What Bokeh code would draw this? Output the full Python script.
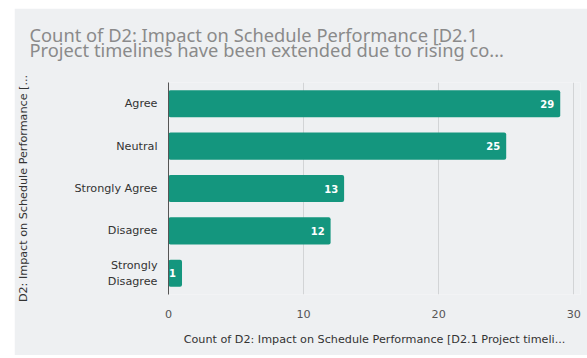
from bokeh.plotting import figure
from bokeh.models import ColumnDataSource, FactorRange, Range1d, FixedTicker, LabelSet, Title
from bokeh.core.properties import value
from bokeh.embed import file_html
from bokeh.resources import INLINE

categories = ["Agree", "Neutral", "Strongly Agree", "Disagree", "Strongly\nDisagree"]
counts = [29, 25, 13, 12, 1]
x_ticks = [0, 10, 20, 30]

title_line1 = "Count of D2: Impact on Schedule Performance [D2.1"
title_line2 = "Project timelines have been extended due to rising co..."
x_title = "Count of D2: Impact on Schedule Performance [D2.1 Project timeli..."
y_title = "D2: Impact on Schedule Performance [..."

BG = "#eef0f2"
BAR = "#14967e"
FS = "11.2px"
TFS = "18.3px"

src = ColumnDataSource(dict(cat=categories, cnt=counts, lbl=[str(c) for c in counts]))

p = figure(width=573, height=347, output_backend="svg", toolbar_location=None,
           y_range=FactorRange(factors=categories[::-1], range_padding=0),
           x_range=Range1d(0, 30.5),
           min_border_left=154, min_border_right=7, min_border_top=74, min_border_bottom=61,
           background_fill_color=BG, border_fill_color=BG, outline_line_color=None)
p.margin = (8, 0, 3, 14)

p.hbar(y="cat", right="cnt", left=0, height=0.64, source=src, fill_color=BAR,
       line_color=None, border_radius=2)

labels = LabelSet(x="cnt", y="cat", text="lbl", source=src, x_offset=-6,
                  text_align="right", text_baseline="middle", text_color="white",
                  text_font=value("DejaVu Sans"), text_font_size="10px", text_font_style="bold")
p.add_layout(labels)

p.xaxis.ticker = FixedTicker(ticks=x_ticks)
p.xaxis.axis_line_color = None
p.xaxis.major_tick_line_color = None
p.xaxis.minor_tick_line_color = None
p.xaxis.major_label_standoff = 9
p.xaxis.major_label_text_font = "DejaVu Sans"
p.xaxis.major_label_text_font_size = FS
p.xaxis.major_label_text_color = "#555555"
p.xaxis.axis_label = x_title
p.xaxis.axis_label_text_font = "DejaVu Sans"
p.xaxis.axis_label_text_font_size = FS
p.xaxis.axis_label_text_font_style = "normal"
p.xaxis.axis_label_text_color = "#333333"
p.xaxis.axis_label_standoff = 12

p.yaxis.axis_line_color = "#555555"
p.yaxis.major_tick_line_color = None
p.yaxis.minor_tick_line_color = None
p.yaxis.major_label_standoff = 5
p.yaxis.major_label_text_font = "DejaVu Sans"
p.yaxis.major_label_text_font_size = FS
p.yaxis.major_label_text_color = "#333333"
p.yaxis.axis_label = y_title
p.yaxis.axis_label_text_font = "DejaVu Sans"
p.yaxis.axis_label_text_font_size = FS
p.yaxis.axis_label_text_font_style = "normal"
p.yaxis.axis_label_text_color = "#333333"
p.yaxis.axis_label_standoff = 41

p.ygrid.grid_line_color = None
p.xgrid.grid_line_color = "#d2d4d6"
p.xgrid.ticker = FixedTicker(ticks=[10, 20, 30])

def make_title(txt, standoff):
    return Title(text=txt, text_font="Noto Sans", text_font_size=TFS,
                 text_font_style="normal", text_color="#8a8a8a", align="left",
                 offset=-139, standoff=standoff)

p.add_layout(make_title(" ", -0.5), "above")       # gap between title and plot
p.add_layout(make_title(title_line2, -12), "above")
p.add_layout(make_title(title_line1, -13), "above")

open("out.html", "w").write(file_html(p, INLINE))
